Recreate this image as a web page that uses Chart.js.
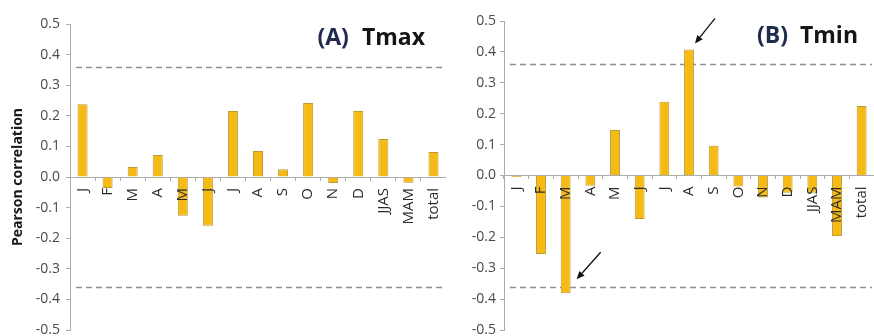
<!DOCTYPE html>
<html>
<head>
<meta charset="utf-8">
<script src="https://cdn.jsdelivr.net/npm/chart.js@4.4.1/dist/chart.umd.min.js"></script>
<style>
  html, body { margin: 0; padding: 0; background: #fff; width: 874px; height: 336px; overflow: hidden; }
  .panel { position: absolute; top: 0; height: 336px; }
  #panelA { left: 0; width: 446px; }
  #panelB { left: 440px; width: 434px; }
</style>
</head>
<body>
<div class="panel" id="panelA"><canvas id="tmaxChart" width="446" height="336"></canvas></div>
<div class="panel" id="panelB"><canvas id="tminChart" width="434" height="336"></canvas></div>
<script>
// Months, the JJAS and MAM seasons, and the whole record
const periods = ['J', 'F', 'M', 'A', 'M', 'J', 'J', 'A', 'S', 'O', 'N', 'D', 'JJAS', 'MAM', 'total'];

// Pearson correlation for maximum temperature
const tmaxCorr = [0.238, -0.036, 0.033, 0.072, -0.127, -0.159, 0.216, 0.085, 0.025, 0.242, -0.020, 0.216, 0.124, -0.019, 0.082];

// Pearson correlation for minimum temperature
const tminCorr = [-0.005, -0.254, -0.381, -0.033, 0.147, -0.141, 0.239, 0.408, 0.096, -0.036, -0.071, -0.056, -0.056, -0.196, 0.225];

// Significance bounds drawn as dashed lines
const significance = [0.36, -0.36];

// Axis range and step of the correlation scale
const yRange = [-0.5, 0.5];
const yStep = 0.1;

const BAR_FILL = '#F5BA14';
const BAR_EDGE = '#BF9A2E';
const AXIS_GREY = '#ababab';

function fmtTick(v) {
  if (Math.abs(v) < 1e-9) return '0.0';
  return v.toFixed(1);
}

// Dashed significance lines across the plot area
const thresholdLines = {
  id: 'thresholdLines',
  beforeDatasetsDraw(chart) {
    const { ctx, chartArea, scales } = chart;
    ctx.save();
    ctx.strokeStyle = '#8e8e8e';
    ctx.lineWidth = 1.6;
    ctx.setLineDash([6, 4]);
    for (const v of significance) {
      const py = Math.round(scales.y.getPixelForValue(v)) + 0.5;
      ctx.beginPath();
      ctx.moveTo(chartArea.left + 6, py);
      ctx.lineTo(chartArea.right - 2, py);
      ctx.stroke();
    }
    ctx.restore();
  }
};

// Panel tag such as "(A) Tmax" in the upper right of each plot
const panelLabel = {
  id: 'panelLabel',
  afterDraw(chart, args, opts) {
    const { ctx, chartArea } = chart;
    ctx.save();
    ctx.textBaseline = 'alphabetic';
    ctx.textAlign = 'left';
    ctx.font = 'bold 23px "Open Sans", sans-serif';
    const nameW = ctx.measureText(opts.name).width;
    const xName = chartArea.right - opts.right - nameW;
    ctx.fillStyle = '#151515';
    ctx.fillText(opts.name, xName, opts.baseline);
    const tagW = ctx.measureText(opts.tag).width;
    ctx.fillStyle = '#1d2b4c';
    ctx.fillText(opts.tag, xName - opts.gap - tagW, opts.baseline);
    ctx.restore();
  }
};

// Arrows pointing at the bars that cross the significance bounds
const markerArrows = {
  id: 'markerArrows',
  afterDatasetsDraw(chart, args, opts) {
    const meta = chart.getDatasetMeta(0);
    const ctx = chart.ctx;
    ctx.save();
    ctx.strokeStyle = '#111';
    ctx.fillStyle = '#111';
    ctx.lineWidth = 1.3;
    for (const a of opts.arrows) {
      const bar = meta.data[a.index];
      const tx = bar.x + a.tip[0], ty = bar.y + a.tip[1];
      const sx = bar.x + a.tail[0], sy = bar.y + a.tail[1];
      const ang = Math.atan2(ty - sy, tx - sx);
      const head = 8, half = 3.5;
      const bx = tx - head * Math.cos(ang), by = ty - head * Math.sin(ang);
      ctx.beginPath();
      ctx.moveTo(sx, sy);
      ctx.lineTo(bx, by);
      ctx.stroke();
      ctx.beginPath();
      ctx.moveTo(tx, ty);
      ctx.lineTo(bx + half * Math.sin(ang), by - half * Math.cos(ang));
      ctx.lineTo(bx - half * Math.sin(ang), by + half * Math.cos(ang));
      ctx.closePath();
      ctx.fill();
    }
    ctx.restore();
  }
};

function buildChart(canvasId, values, cfg) {
  return new Chart(document.getElementById(canvasId), {
    type: 'bar',
    data: {
      labels: periods,
      datasets: [{
        data: values,
        backgroundColor: BAR_FILL,
        borderColor: BAR_EDGE,
        borderWidth: 1,
        barPercentage: 0.4,
        categoryPercentage: 1.0
      }]
    },
    options: {
      responsive: false,
      animation: false,
      devicePixelRatio: 1,
      layout: { padding: { top: cfg.top, bottom: cfg.bottom, left: 0, right: 0 } },
      plugins: {
        legend: { display: false },
        tooltip: { enabled: false },
        panelLabel: cfg.label,
        markerArrows: { arrows: cfg.arrows || [] }
      },
      scales: {
        x: {
          position: { y: 0 },
          ticks: {
            z: 1,
            autoSkip: false,
            minRotation: 90,
            maxRotation: 90,
            padding: 8,
            color: '#2a2a2a',
            font: { family: 'Open Sans', size: 15 }
          },
          grid: { offset: true, drawOnChartArea: false, drawTicks: true, tickLength: 3, color: AXIS_GREY },
          border: { color: AXIS_GREY, width: 1 },
          afterFit(s) { s.paddingLeft = 0; s.paddingRight = 0; }
        },
        y: {
          min: yRange[0],
          max: yRange[1],
          ticks: {
            stepSize: yStep,
            padding: cfg.tickPad,
            color: '#4a4a4a',
            font: { family: 'Open Sans', size: 14 },
            callback: v => fmtTick(v)
          },
          grid: { drawOnChartArea: false, drawTicks: true, tickLength: 4, color: AXIS_GREY },
          border: { color: AXIS_GREY, width: 1 },
          title: {
            display: cfg.yTitle,
            text: 'Pearson correlation',
            color: '#1a1a1a',
            font: { family: 'Open Sans', size: 14, weight: 'bold' },
            padding: { top: 10, bottom: 0 }
          },
          afterFit(s) { s.width = cfg.axisWidth; s.paddingTop = 0; s.paddingBottom = 0; }
        }
      }
    },
    plugins: [thresholdLines, panelLabel, markerArrows]
  });
}

buildChart('tmaxChart', tmaxCorr, {
  top: 24, bottom: 6, axisWidth: 70, tickPad: 6, yTitle: true,
  label: { tag: '(A)', name: 'Tmax', right: 21, baseline: 45, gap: 13 }
});

buildChart('tminChart', tminCorr, {
  top: 21, bottom: 6, axisWidth: 64, tickPad: 4, yTitle: false,
  label: { tag: '(B)', name: 'Tmin', right: 16, baseline: 43, gap: 12 },
  arrows: [
    { index: 7, tip: [6, -6], tail: [26, -31] },
    { index: 2, tip: [11, -14], tail: [35, -41] }
  ]
});
</script>
</body>
</html>
